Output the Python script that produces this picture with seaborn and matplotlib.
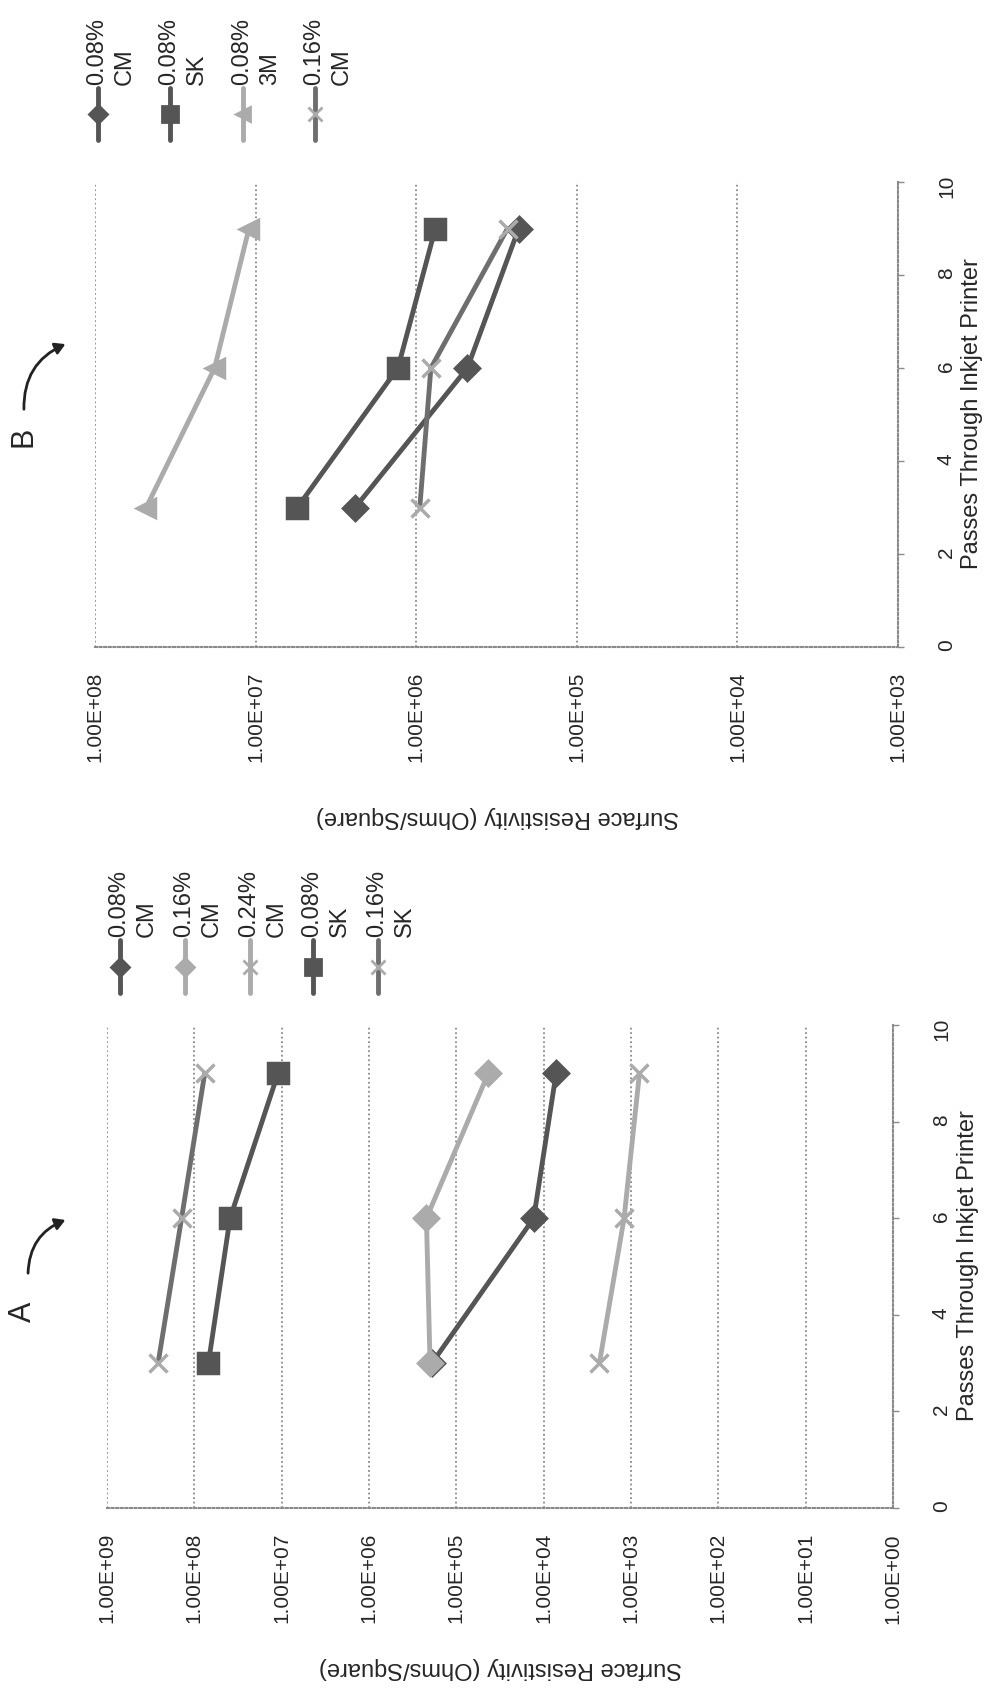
import numpy as np
import pandas as pd
import matplotlib
matplotlib.use("Agg")
import matplotlib.pyplot as plt
import seaborn as sns
from matplotlib.lines import Line2D
from matplotlib.patches import FancyArrowPatch
from matplotlib.ticker import LogLocator, NullFormatter

# --------------------------------------
# DATA
# --------------------------------------

passes = [3, 6, 9]

# chart A
a_cm_008 = [1.9e5, 1.3e4, 7.2e3]
a_cm_016 = [2.0e5, 2.2e5, 4.3e4]
a_cm_024 = [2.3e3, 1.2e3, 8.0e2]
a_sk_008 = [6.9e7, 3.9e7, 1.1e7]
a_sk_016 = [2.6e8, 1.4e8, 7.6e7]
a_labels = ["0.08%\nCM", "0.16%\nCM", "0.24%\nCM", "0.08%\nSK", "0.16%\nSK"]

# chart B
b_cm_008 = [2.4e6, 4.8e5, 2.3e5]
b_sk_008 = [5.5e6, 1.3e6, 7.6e5]
b_3m_008 = [4.8e7, 1.8e7, 1.1e7]
b_cm_016 = [9.5e5, 8.1e5, 2.7e5]
b_labels = ["0.08%\nCM", "0.08%\nSK", "0.08%\n3M", "0.16%\nCM"]

pass_ticks = [0, 2, 4, 6, 8, 10]

# --------------------------------------
# STYLE
# --------------------------------------

sns.set_style("white")
plt.rcParams["font.family"] = ["Liberation Sans", "DejaVu Sans"]

TXT = "#262626"
DARK = "#555555"
MID = "#6e6e6e"
LIGHT = "#ababab"
GRID = "#8a8a8a"

W, H = 995, 1693
fig = plt.figure(figsize=(W / 100, H / 100), dpi=100)


def fx(x):
    return x / W


def fy(y):
    return 1 - y / H


def px_axes(left, top, right, bottom):
    return fig.add_axes([fx(left), fy(bottom), (right - left) / W, (bottom - top) / H])


def style_axes(ax, hi_exp, lo_exp):
    ax.set_xscale("log")
    ax.set_xlim(10.0 ** hi_exp, 10.0 ** lo_exp)
    ax.set_ylim(0, 10)
    decades = [10.0 ** k for k in range(lo_exp, hi_exp + 1)]
    ax.set_xticks(decades)
    ax.set_xticklabels(["1.00E+%02d" % k for k in range(lo_exp, hi_exp + 1)])
    ax.xaxis.set_minor_locator(LogLocator(base=10, subs=np.arange(2, 10)))
    ax.xaxis.set_minor_formatter(NullFormatter())
    ax.grid(axis="x", which="major", linestyle=(0, (1, 1.5)), color=GRID, linewidth=1.3)
    ax.grid(axis="y", visible=False)

    ax.yaxis.tick_right()
    ax.set_yticks(pass_ticks)
    ax.set_yticklabels([str(t) for t in pass_ticks])

    for side in ["left", "top"]:
        ax.spines[side].set_visible(False)
    for side in ["bottom", "right"]:
        ax.spines[side].set_color(GRID)
        ax.spines[side].set_linestyle((0, (1, 1.2)))
        ax.spines[side].set_linewidth(1.5)

    ax.tick_params(axis="x", which="major", direction="out", length=6, width=1,
                   color=GRID, pad=12, labelsize=15, labelcolor=TXT, labelrotation=90)
    ax.tick_params(axis="x", which="minor", direction="out", length=4, width=1, color=GRID)
    ax.tick_params(axis="y", which="major", direction="out", length=4, width=1,
                   color=GRID, pad=24, labelsize=15, labelcolor=TXT, labelrotation=90)


def draw_series(ax, values, color, marker, msize, mcolor):
    df = pd.DataFrame({"res": values, "passes": passes})
    sns.lineplot(data=df, x="res", y="passes", orient="y", sort=False,
                 color=color, linewidth=3.5, marker=marker, markersize=msize,
                 markerfacecolor=mcolor, markeredgecolor=mcolor, markeredgewidth=2.5,
                 ax=ax, legend=False)
    ax.set_xlabel("")
    ax.set_ylabel("")


def draw_legend(cols, y_top, y_bot, styles, labels):
    for xc, (color, marker, msize, mcolor), lab in zip(cols, styles, labels):
        fig.add_artist(Line2D([fx(xc), fx(xc)], [fy(y_bot), fy(y_top)],
                              transform=fig.transFigure, color=color, linewidth=3.5))
        fig.add_artist(Line2D([fx(xc)], [fy((y_top + y_bot) / 2)],
                              transform=fig.transFigure, color=color, marker=marker,
                              markersize=msize * 0.8, markerfacecolor=mcolor,
                              markeredgecolor=mcolor, markeredgewidth=2, linestyle="none"))
        fig.text(fx(xc - 12), fy(y_top - 3), lab, rotation=90, ha="left", va="bottom",
                 multialignment="left", fontsize=17, color=TXT, linespacing=1.35)


def draw_tag(letter, lx, ly, start, tip):
    fig.text(fx(lx), fy(ly), letter, rotation=90, ha="center", va="center",
             fontsize=22, color=TXT)
    arrow = FancyArrowPatch((fx(start[0]), fy(start[1])), (fx(tip[0]), fy(tip[1])),
                            transform=fig.transFigure, connectionstyle="arc3,rad=-0.35",
                            arrowstyle="-|>,head_length=6,head_width=3.5",
                            color="#222222", linewidth=2)
    fig.add_artist(arrow)


# --------------------------------------
# CHART B (top)
# --------------------------------------

ax_b = px_axes(95, 182, 898, 647)
style_axes(ax_b, 8, 3)
b_styles = [
    (DARK, "D", 12, DARK),
    (DARK, "s", 14, DARK),
    (LIGHT, "<", 13, LIGHT),
    (MID, "x", 13, LIGHT),
]
for vals, st in zip([b_cm_008, b_sk_008, b_3m_008, b_cm_016], b_styles):
    draw_series(ax_b, vals, *st)

fig.text(fx(972), fy(414), "Passes Through Inkjet Printer", rotation=90,
         ha="center", va="center", fontsize=17, color=TXT)
fig.text(fx(497), fy(817), "Surface Resistivity (Ohms/Square)", rotation=180,
         ha="center", va="center", fontsize=17, color=TXT)
draw_legend([98, 170, 243, 315], 88, 140, b_styles, b_labels)
draw_tag("B", 23, 437, (24, 412), (68, 343))

# --------------------------------------
# CHART A (bottom)
# --------------------------------------

ax_a = px_axes(107, 1025, 893, 1508)
style_axes(ax_a, 9, 0)
a_styles = [
    (DARK, "D", 12, DARK),
    (LIGHT, "D", 12, LIGHT),
    (LIGHT, "x", 13, LIGHT),
    (DARK, "s", 14, DARK),
    (MID, "x", 13, LIGHT),
]
for vals, st in zip([a_cm_008, a_cm_016, a_cm_024, a_sk_008, a_sk_016], a_styles):
    draw_series(ax_a, vals, *st)

fig.text(fx(968), fy(1266), "Passes Through Inkjet Printer", rotation=90,
         ha="center", va="center", fontsize=17, color=TXT)
fig.text(fx(500), fy(1668), "Surface Resistivity (Ohms/Square)", rotation=180,
         ha="center", va="center", fontsize=17, color=TXT)
draw_legend([120, 185, 250, 313, 378], 940, 993, a_styles, a_labels)
draw_tag("A", 23, 1312, (28, 1276), (68, 1219))

fig.savefig("out.png", dpi=100)
